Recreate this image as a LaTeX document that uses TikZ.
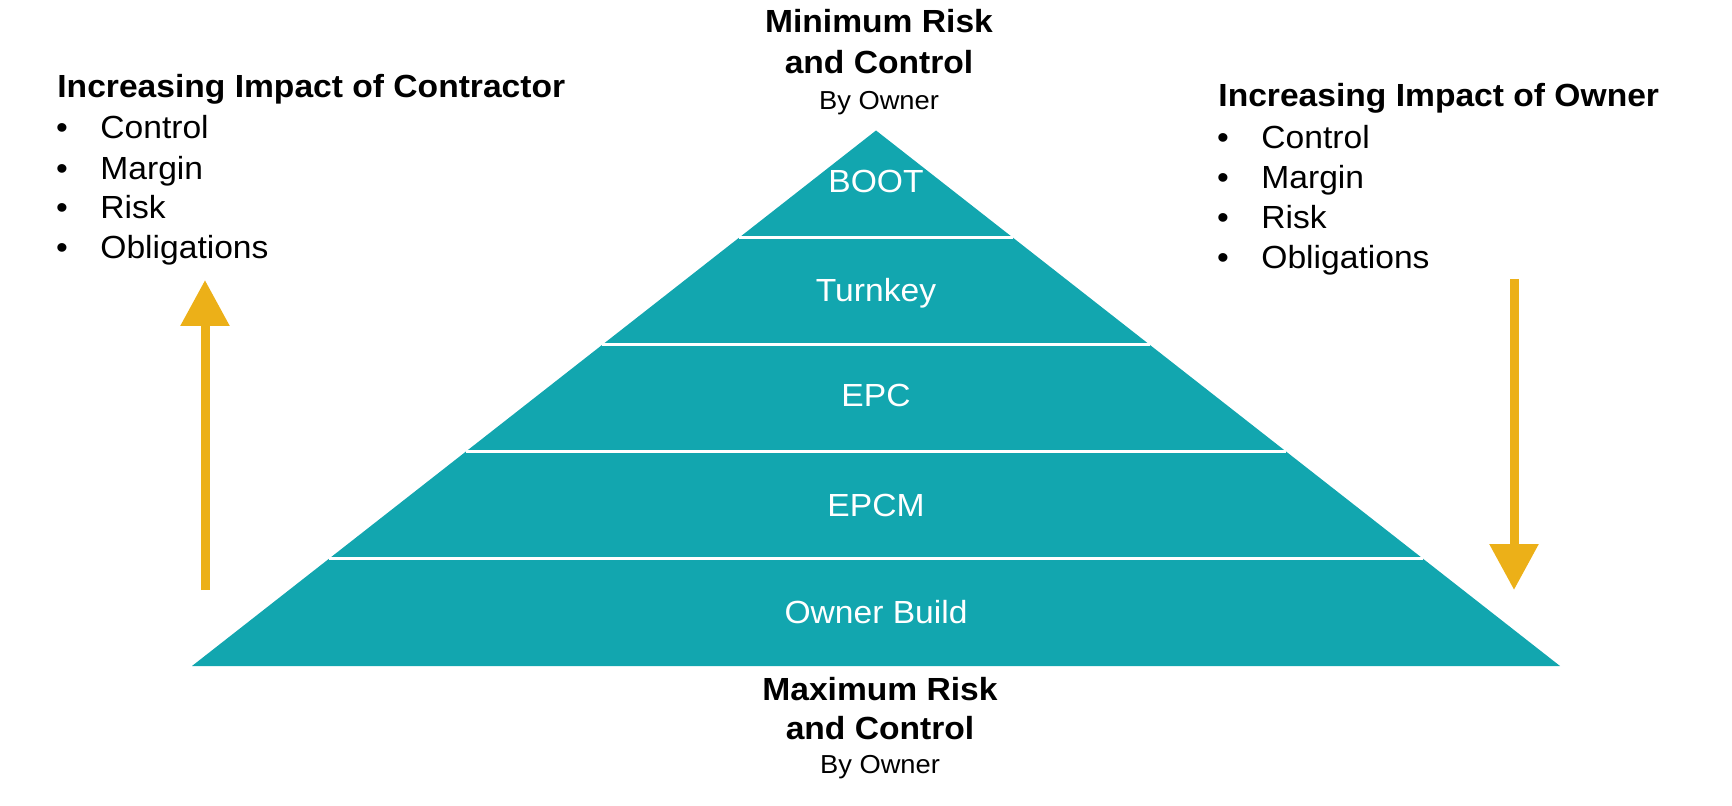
\documentclass[tikz,border=0pt]{standalone}
\usepackage{fontspec}
\setmainfont{Liberation Sans}[FakeStretch=1.05]
\usetikzlibrary{arrows.meta,calc}
\definecolor{pyrteal}{RGB}{18,166,175}
\definecolor{arrgold}{RGB}{236,176,24}
\begin{document}
\begin{tikzpicture}[x=0.5pt,y=-0.5pt,
  band/.style={inner sep=0pt,anchor=base,text=white,font=\fontsize{16pt}{19pt}\selectfont},
  ttl/.style={inner sep=0pt,anchor=base,font=\bfseries\fontsize{16pt}{19pt}\selectfont},
  sub/.style={inner sep=0pt,anchor=base,font=\fontsize{13pt}{15pt}\selectfont},
  head/.style={inner sep=0pt,anchor=base west,font=\bfseries\fontsize{16pt}{19pt}\selectfont},
  item/.style={inner sep=0pt,anchor=base west,font=\fontsize{16pt}{19pt}\selectfont},
  bul/.style={inner sep=0pt,anchor=base,font=\fontsize{16pt}{19pt}\selectfont},
  divider/.style={white,line width=1.5pt},
  bigarrow/.style={arrgold,line width=4.5pt,-{Triangle[width=23.5pt,length=23pt]}}]
\useasboundingbox (0,0) rectangle (1732,806);
% pyramid
\coordinate (apex) at (876,130.5);
\coordinate (bl) at (192,666);
\coordinate (br) at (1560,666);
\fill[pyrteal] (apex) -- (br) -- (bl) -- cycle;
\foreach \t/\n in {0.2/a,0.4/b,0.6/c,0.8/d}{
  \coordinate (l\n) at ($(apex)!\t!(bl)$);
  \coordinate (r\n) at ($(apex)!\t!(br)$);
  \draw[divider] (l\n) -- (r\n);
}
\node[band] (boot) at (876,193) {BOOT};
\node[band] (turnkey) at (876,302) {Turnkey};
\node[band] (epc) at (876,407) {EPC};
\node[band] (epcm) at (876,516) {EPCM};
\node[band] (ownerbuild) at (876,623) {Owner Build};
% top titles
\node[ttl] (mintitle1) at (879,33) {Minimum Risk};
\node[ttl] (mintitle2) at (879,74) {and Control};
\node[sub] (minby) at (879,110) {By Owner};
% bottom titles
\node[ttl] (maxtitle1) at (880,700) {Maximum Risk};
\node[ttl] (maxtitle2) at (880,739) {and Control};
\node[sub] (maxby) at (880,773) {By Owner};
% left list
\node[head] (lhead) at (57,98) {Increasing Impact of Contractor};
\foreach \y/\txt/\n in {139/Control/1,180/Margin/2,219/Risk/3,259/Obligations/4}{
  \node[bul] (lb\n) at (62,\y) {•};
  \node[item] (li\n) at (100,\y) {\txt};
}
% right list
\node[head] (rhead) at (1218,107) {Increasing Impact of Owner};
\foreach \y/\txt/\n in {149/Control/1,189/Margin/2,229/Risk/3,269/Obligations/4}{
  \node[bul] (rb\n) at (1223,\y) {•};
  \node[item] (ri\n) at (1261,\y) {\txt};
}
% arrows
\coordinate (lat) at (205,590);
\coordinate (lah) at (205,280);
\draw[bigarrow] (lat) -- (lah);
\coordinate (rat) at (1514,279);
\coordinate (rah) at (1514,590);
\draw[bigarrow] (rat) -- (rah);
\end{tikzpicture}
\end{document}
